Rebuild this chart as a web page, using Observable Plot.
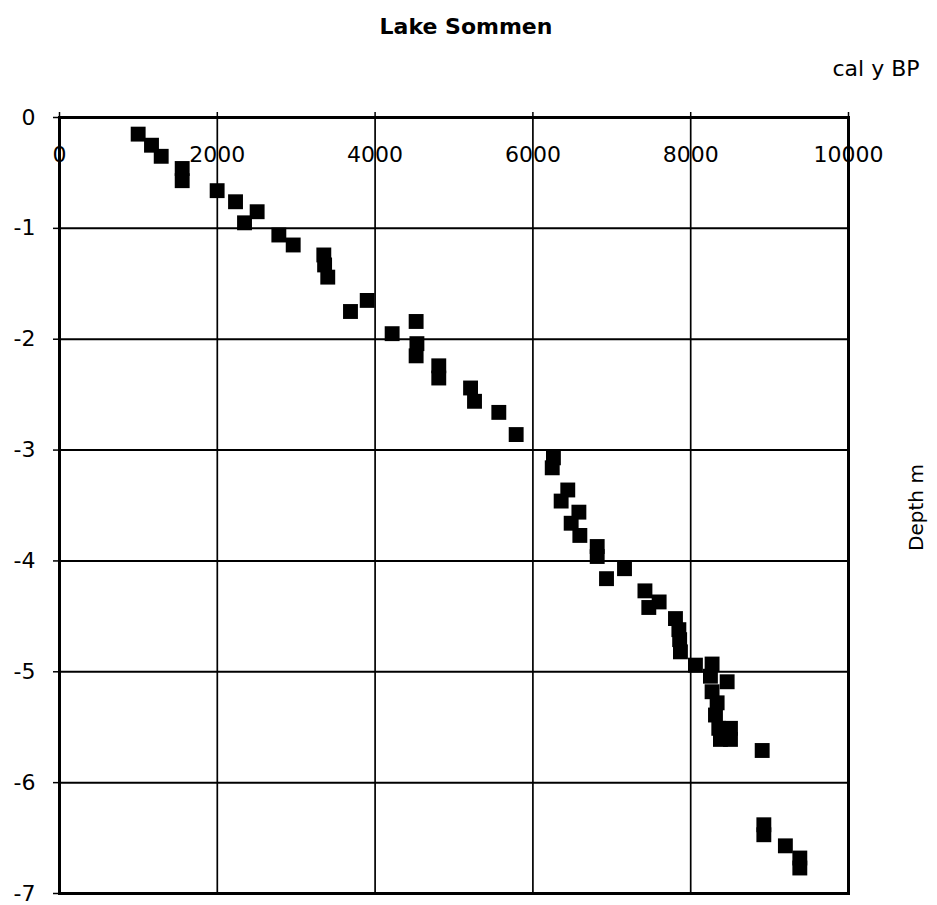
<!DOCTYPE html>
<html>
<head>
<meta charset="utf-8">
<script src="https://cdn.jsdelivr.net/npm/d3@7"></script>
<script src="https://cdn.jsdelivr.net/npm/@observablehq/plot@0.6"></script>
<style>
  html, body { margin: 0; padding: 0; background: white; }
</style>
</head>
<body>
<div id="chart"></div>
<script>
const title = "Lake Sommen";
const xLabel = "cal y BP";
const yLabel = "Depth m";
const xTicks = [0, 2000, 4000, 6000, 8000, 10000];
const yTicks = [0, -1, -2, -3, -4, -5, -6, -7];

const ageCalBP = [
  997, 1166, 1289, 1555, 1555, 1998, 2231, 2505, 2345, 2780,
  2962, 3350, 3360, 3400, 3688, 3900, 4520, 4216, 4530, 4520,
  4807, 4807, 5210, 5260, 5568, 5788, 6260, 6245, 6442, 6358,
  6583, 6485, 6595, 6815, 6815, 7161, 6933, 7420, 7600, 7469,
  7807, 7850, 7860, 7870, 8060, 8271, 8250, 8462, 8271, 8335,
  8314, 8356, 8504, 8377, 8504, 8906, 8927, 8927, 9200, 9383,
  9383
];
const depthM = [
  -0.15, -0.25, -0.35, -0.46, -0.57, -0.66, -0.76, -0.85, -0.95, -1.06,
  -1.15, -1.24, -1.33, -1.44, -1.75, -1.65, -1.84, -1.95, -2.04, -2.15,
  -2.24, -2.35, -2.44, -2.56, -2.66, -2.86, -3.07, -3.16, -3.36, -3.46,
  -3.56, -3.66, -3.77, -3.87, -3.96, -4.07, -4.16, -4.27, -4.37, -4.42,
  -4.52, -4.62, -4.71, -4.82, -4.94, -4.93, -5.04, -5.09, -5.18, -5.28,
  -5.39, -5.51, -5.51, -5.61, -5.61, -5.71, -6.38, -6.47, -6.57, -6.68,
  -6.77
];

const data = ageCalBP.map((a, i) => ({age: a, depth: depthM[i]}));

const chart = Plot.plot({
  width: 937,
  height: 905,
  marginLeft: 59,
  marginRight: 89,
  marginTop: 117,
  marginBottom: 12,
  style: {fontFamily: "'DejaVu Sans', sans-serif", fontSize: "22px", background: "white", color: "black"},
  x: {domain: [0, 10000]},
  y: {domain: [-7, 0]},
  marks: [
    Plot.axisX({anchor: "top", ticks: xTicks, tickSize: 0, label: null, dy: 53, fontSize: 22, tickFormat: d => String(d)}),
    Plot.axisX({anchor: "top", ticks: xTicks, tickSize: 6, label: null, tickFormat: () => "", stroke: "black", strokeWidth: 1.5}),
    Plot.axisY({anchor: "left", ticks: yTicks, tickSize: 6, tickPadding: 18, label: null, fontSize: 22, stroke: "black", strokeWidth: 1.5, tickFormat: d => String(d)}),
    Plot.gridX({ticks: xTicks, stroke: "black", strokeOpacity: 1, strokeWidth: 1.7}),
    Plot.gridY({ticks: yTicks, stroke: "black", strokeOpacity: 1, strokeWidth: 2}),
    Plot.frame({stroke: "black", strokeWidth: 3}),
    Plot.dot(data, {x: "age", y: "depth", symbol: "square", r: 8.4, fill: "black", stroke: "none"}),
    Plot.text([title], {frameAnchor: "top", dx: 12, dy: -99, fontWeight: "bold", fontSize: 22, text: d => d}),
    Plot.text([xLabel], {frameAnchor: "top-right", dx: -16, dy: -57, textAnchor: "start", fontSize: 22, text: d => d}),
    Plot.text([yLabel], {frameAnchor: "right", dx: 68, dy: 2, rotate: -90, textAnchor: "middle", fontSize: 20, text: d => d})
  ]
});
document.getElementById("chart").appendChild(chart);
</script>
</body>
</html>
